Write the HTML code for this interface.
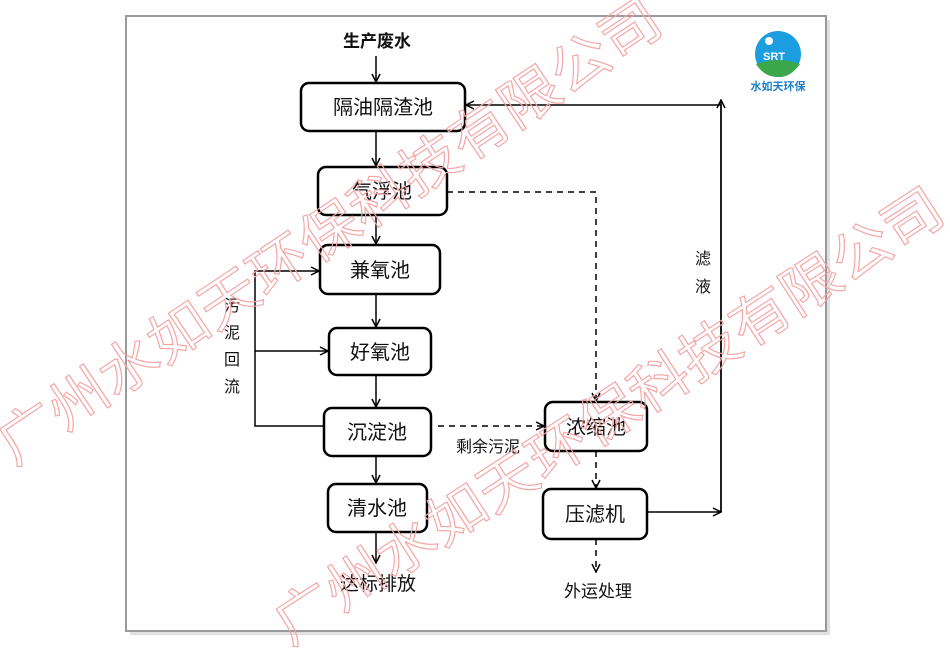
<!DOCTYPE html>
<html><head><meta charset="utf-8"><style>
html,body{margin:0;padding:0;background:#fff;}
svg{display:block;font-family:"Liberation Sans","Noto Sans CJK SC",sans-serif;}
</style></head><body>
<svg width="950" height="648" viewBox="0 0 950 648" xmlns="http://www.w3.org/2000/svg">
<defs>
<marker id="a" markerWidth="10" markerHeight="10" refX="9" refY="5" orient="auto" markerUnits="userSpaceOnUse">
<path d="M1,1 L9,5 L1,9" fill="none" stroke="#000" stroke-width="1.5"/></marker>
</defs>
<rect x="130" y="20" width="700" height="615" fill="#e0e0e0"/>
<rect x="126" y="16" width="700" height="615" fill="#fff" stroke="#9a9a9a" stroke-width="2"/>
<g fill="none" stroke="#000" stroke-width="1.5">
<line x1="376" y1="56" x2="376" y2="82" marker-end="url(#a)"/>
<line x1="376" y1="131" x2="376" y2="166" marker-end="url(#a)"/>
<line x1="376" y1="215" x2="376" y2="244" marker-end="url(#a)"/>
<line x1="376" y1="294" x2="376" y2="327" marker-end="url(#a)"/>
<line x1="376" y1="375" x2="376" y2="407" marker-end="url(#a)"/>
<line x1="376" y1="456" x2="376" y2="483" marker-end="url(#a)"/>
<line x1="376" y1="532" x2="376" y2="563" marker-end="url(#a)"/>
<polyline points="324,426 255,426 255,271 319,271" marker-end="url(#a)"/>
<line x1="255" y1="351" x2="328" y2="351" marker-end="url(#a)"/>
<polyline points="647,512 721,512" marker-end="url(#a)"/>
<polyline points="721,512 721,105 466,105" marker-end="url(#a)"/>
<line x1="721" y1="512" x2="721" y2="100" marker-end="url(#a)"/>
<g stroke-dasharray="6,5">
<polyline points="447,192 596,192 596,401" marker-end="url(#a)"/>
<line x1="438" y1="426" x2="544" y2="426" marker-end="url(#a)"/>
<line x1="596" y1="451" x2="596" y2="488" marker-end="url(#a)"/>
<line x1="596" y1="539" x2="596" y2="572" marker-end="url(#a)"/>
</g>
<g stroke-width="2.5" fill="#fff">
<rect x="301" y="83" width="164" height="48" rx="8"/>
<rect x="318" y="167" width="129" height="48" rx="8"/>
<rect x="320" y="245" width="120" height="49" rx="8"/>
<rect x="329" y="328" width="102" height="47" rx="8"/>
<rect x="324" y="408" width="107" height="48" rx="8"/>
<rect x="328" y="484" width="99" height="48" rx="8"/>
<rect x="545" y="402" width="102" height="49" rx="8"/>
<rect x="543" y="489" width="104" height="50" rx="8"/>
</g>
</g>
<g font-size="20" text-anchor="middle" fill="#111">
<text x="383" y="114">隔油隔渣池</text>
<text x="382" y="198">气浮池</text>
<text x="380" y="277">兼氧池</text>
<text x="380" y="359">好氧池</text>
<text x="377" y="439">沉淀池</text>
<text x="377" y="515">清水池</text>
<text x="596" y="434">浓缩池</text>
<text x="595" y="521">压滤机</text>
<text x="378" y="590" font-size="19">达标排放</text>
<text x="377" y="47" font-size="17" font-weight="bold">生产废水</text>
<text x="598" y="597" font-size="17">外运处理</text>
<text x="488" y="452" font-size="16">剩余污泥</text>
<text x="232" y="311" font-size="16">污</text>
<text x="232" y="338" font-size="16">泥</text>
<text x="232" y="365" font-size="16">回</text>
<text x="232" y="392" font-size="16">流</text>
<text x="703" y="264" font-size="16">滤</text>
<text x="703" y="292" font-size="16">液</text>
</g>
<circle cx="778" cy="54" r="23" fill="#1a9ee0"/>
<path d="M756,64 Q778,56 800,64 Q790,78 778,77 Q764,77 756,64Z" fill="#3aa84a"/>
<circle cx="769" cy="41" r="4" fill="#fff"/>
<text x="774" y="60" font-size="11" font-weight="bold" fill="#fff" text-anchor="middle">SRT</text>
<text x="778" y="90" font-size="11" font-weight="bold" fill="#1a7fc8" text-anchor="middle">水如天环保</text>
<g fill="none" stroke="#f5a3a3" stroke-width="1.1" font-size="56" font-family="'Liberation Sans','Noto Sans CJK SC',sans-serif">
<text x="0" y="0" textLength="785" lengthAdjust="spacingAndGlyphs" transform="translate(14,466) rotate(-33.8)">广州水如天环保科技有限公司</text>
<text x="0" y="0" textLength="785" lengthAdjust="spacingAndGlyphs" transform="translate(290,646) rotate(-33)">广州水如天环保科技有限公司</text>
</g>
</svg>
</body></html>
